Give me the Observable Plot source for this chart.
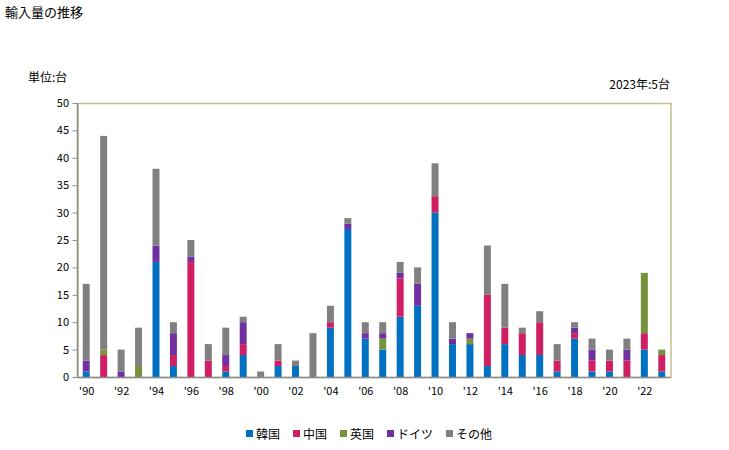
<!DOCTYPE html>
<html><head><meta charset="utf-8">
<script src="https://cdn.jsdelivr.net/npm/d3@7"></script>
<script src="https://cdn.jsdelivr.net/npm/@observablehq/plot@0.6"></script>
<style>
body{margin:0;background:#fff;font-family:"Noto Sans CJK JP","Noto Sans",sans-serif;}
#wrap{position:relative;width:729px;height:450px;}
.t{position:absolute;color:#000;white-space:nowrap;line-height:1;}
#legend{position:absolute;left:246px;top:425px;display:flex;gap:13px;font-size:12px;}
#legend span.item{display:flex;align-items:center;gap:3px;}
#legend i{display:inline-block;width:7px;height:7px;}
</style></head>
<body><div id="wrap">
<div class="t" style="left:5px;top:5px;font-size:13px;">輸入量の推移</div>
<div class="t" style="left:28px;top:71px;font-size:12px;">単位:台</div>
<div class="t" style="right:59px;top:78px;font-size:12px;">2023年:5台</div>
<div id="chart"></div>
<div id="legend"></div>
</div>
<script>
const years = d3.range(1990, 2024);
const countries = ["韓国", "中国", "英国", "ドイツ", "その他"];
const colors = ["#0070c0", "#d01f63", "#76923c", "#7030a0", "#808080"];
const korea   = [1,0,0,0,21,2,0,0,1,4,0,2,2,0,9,27,7,5,11,13,30,6,6,2,6,4,4,1,7,1,1,0,5,1];
const china   = [0,4,0,0,0,2,21,3,1,2,0,1,0,0,1,0,0,0,7,0,3,0,0,13,3,4,6,2,1,2,2,3,3,3];
const uk      = [0,1,0,2,0,0,0,0,0,0,0,0,0,0,0,0,0,2,0,0,0,0,1,0,0,0,0,0,0,0,0,0,11,1];
const germany = [2,0,1,0,3,4,1,0,2,4,0,0,0,0,0,1,1,1,1,4,0,1,1,0,0,0,0,0,1,2,0,2,0,0];
const other   = [14,39,4,7,14,2,3,3,5,1,1,3,1,8,3,1,2,2,2,3,6,3,0,9,8,1,2,3,1,2,2,2,0,0];
const yTicks = d3.range(0, 51, 5);
const xTickYears = d3.range(1990, 2024, 2);
const xTickLabels = xTickYears.map(y => "'" + String(y).slice(2));

const series = [korea, china, uk, germany, other];
const data = [];
years.forEach((yr, i) => {
  series.forEach((s, k) => data.push({year: yr, country: countries[k], value: s[i]}));
});

const leftLine = (index, scales, values, dim) => {
  const ns = "http://www.w3.org/2000/svg";
  const l = document.createElementNS(ns, "line");
  l.setAttribute("x1", dim.marginLeft); l.setAttribute("x2", dim.marginLeft);
  l.setAttribute("y1", dim.marginTop); l.setAttribute("y2", dim.height - dim.marginBottom);
  l.setAttribute("stroke", "#8c8c8c"); l.setAttribute("stroke-width", 1.5);
  return l;
};

const chart = Plot.plot({
  width: 729, height: 450,
  marginTop: 103, marginBottom: 73, marginLeft: 77.5, marginRight: 58.5,
  style: {fontFamily: '"Noto Sans CJK JP","Noto Sans",sans-serif', fontSize: "11px", color: "#000", background: "transparent"},
  x: {type: "band", domain: years, paddingInner: 0.6, paddingOuter: 0.3, round: false, label: null,
      ticks: xTickYears, tickFormat: d => xTickLabels[xTickYears.indexOf(d)], tickSize: 0, tickPadding: 10},
  y: {domain: [0, 50], ticks: yTicks, label: null, tickSize: 5, tickPadding: 4},
  color: {domain: countries, range: colors},
  marks: [
    Plot.frame({stroke: "#c8bd8c", strokeWidth: 1.5}),
    Plot.barY(data, {x: "year", y: "value", fill: "country", order: countries}),
    Plot.ruleY([0], {stroke: "#8c8c8c", strokeWidth: 1.5}),
    leftLine
  ]
});
chart.querySelectorAll('g[aria-label="y-axis tick"]').forEach(e => e.setAttribute("stroke", "#8c8c8c"));
document.getElementById("chart").appendChild(chart);
chart.style.position = "absolute"; chart.style.left = "0"; chart.style.top = "0";

const lg = document.getElementById("legend");
countries.forEach((c, k) => {
  const s = document.createElement("span"); s.className = "item";
  s.innerHTML = `<i style="background:${colors[k]}"></i>${c}`;
  lg.appendChild(s);
});
</script>
</body></html>
